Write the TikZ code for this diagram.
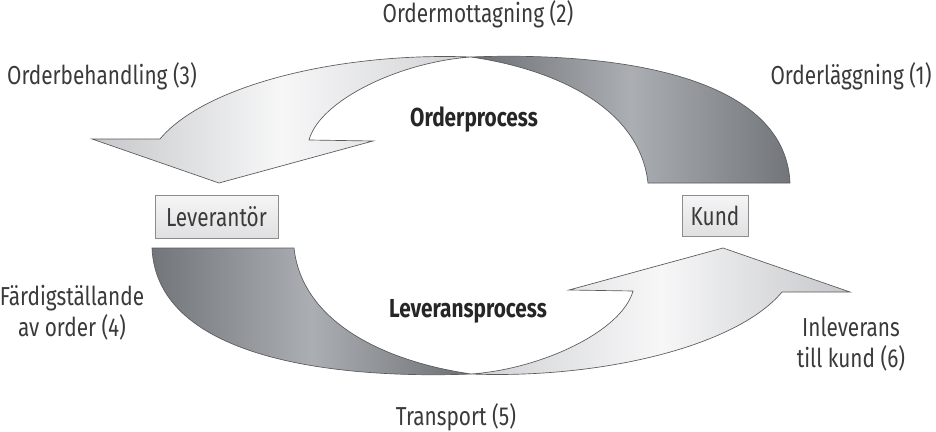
\documentclass[tikz,border=0pt]{standalone}
\usepackage{fontspec}
\setmainfont[FakeStretch=0.8]{Fira Sans}
\definecolor{txt}{HTML}{3A3A3A}
\definecolor{edge}{HTML}{5A5A5A}
\definecolor{lgA}{HTML}{C6C7CA}
\definecolor{lgB}{HTML}{F7F7F8}
\definecolor{lgC}{HTML}{D0D1D4}
\definecolor{dkA}{HTML}{6C7074}
\definecolor{dkB}{HTML}{ABAFB3}
\definecolor{dkC}{HTML}{72767A}
\definecolor{boxtop}{HTML}{F5F5F6}
\definecolor{boxbot}{HTML}{E0E0E2}
\definecolor{boxedge}{HTML}{8C8C8C}
\begin{document}
\begin{tikzpicture}[x=0.75pt,y=-0.75pt,
  lbl/.style={text=txt,font=\fontsize{19.5}{23}\selectfont,inner sep=0pt},
  lbltwo/.style={lbl,align=center},
  proc/.style={text=black!85,font=\fontsize{19.5}{23}\selectfont\bfseries,inner sep=0pt},
  party/.style={draw=boxedge,line width=0.6pt,top color=boxtop,bottom color=boxbot,
     text=txt,font=\fontsize{19.5}{23}\selectfont,inner sep=0pt},
  arrowshape/.style={draw=edge,line width=0.5pt}]
\useasboundingbox (0,0) rectangle (936,432);
\fill[white] (0,0) rectangle (936,432);

% upper light arrow (Orderbehandling)
\draw[arrowshape,left color=lgA,right color=lgC,middle color=lgB]
  (471,57) .. controls (340,52) and (205,85) .. (160,139)
  -- (92,139) -- (219,183) -- (373,141) -- (309,140)
  .. controls (320,100) and (400,62) .. (471,57) -- cycle;
% upper dark arrow (Orderläggning)
\draw[arrowshape,left color=dkA,right color=dkC,middle color=dkB]
  (471,57) .. controls (600,52) and (785,70) .. (790,183)
  -- (648,183) .. controls (640,110) and (560,70) .. (471,57) -- cycle;
% lower light arrow (Inleverans)
\draw[arrowshape,left color=lgC,right color=lgA,middle color=lgB]
  (471,374) .. controls (602,379) and (737,346) .. (782,292)
  -- (850,292) -- (723,248) -- (569,290) -- (633,291)
  .. controls (622,331) and (542,369) .. (471,374) -- cycle;
% lower dark arrow (Färdigställande)
\draw[arrowshape,left color=dkC,right color=dkA,middle color=dkB]
  (471,374) .. controls (342,379) and (157,361) .. (152,248)
  -- (294,248) .. controls (302,321) and (382,361) .. (471,374) -- cycle;

\node[party,minimum width=92.25pt,minimum height=32.25pt] (lev) at (216.5,216.5) {Leverantör};
\node[party,minimum width=49.5pt,minimum height=30.75pt] (kund) at (715,215.5) {Kund};

\node[lbl,anchor=base] (o2) at (478,22) {Ordermottagning (2)};
\node[lbl,anchor=base] (o3) at (102,84) {Orderbehandling (3)};
\node[lbl,anchor=base] (o1) at (851,84) {Orderläggning (1)};
\node[proc,anchor=base] (op) at (474,126) {Orderprocess};
\node[proc,anchor=base] (lp) at (468,317) {Leveransprocess};
\node[lbltwo] (o4) at (72,313) {Färdigställande\\av order (4)};
\node[lbl,anchor=base] (o5) at (456,425) {Transport (5)};
\node[lbltwo] (o6) at (851,344) {Inleverans\\till kund (6)};
\end{tikzpicture}
\end{document}
